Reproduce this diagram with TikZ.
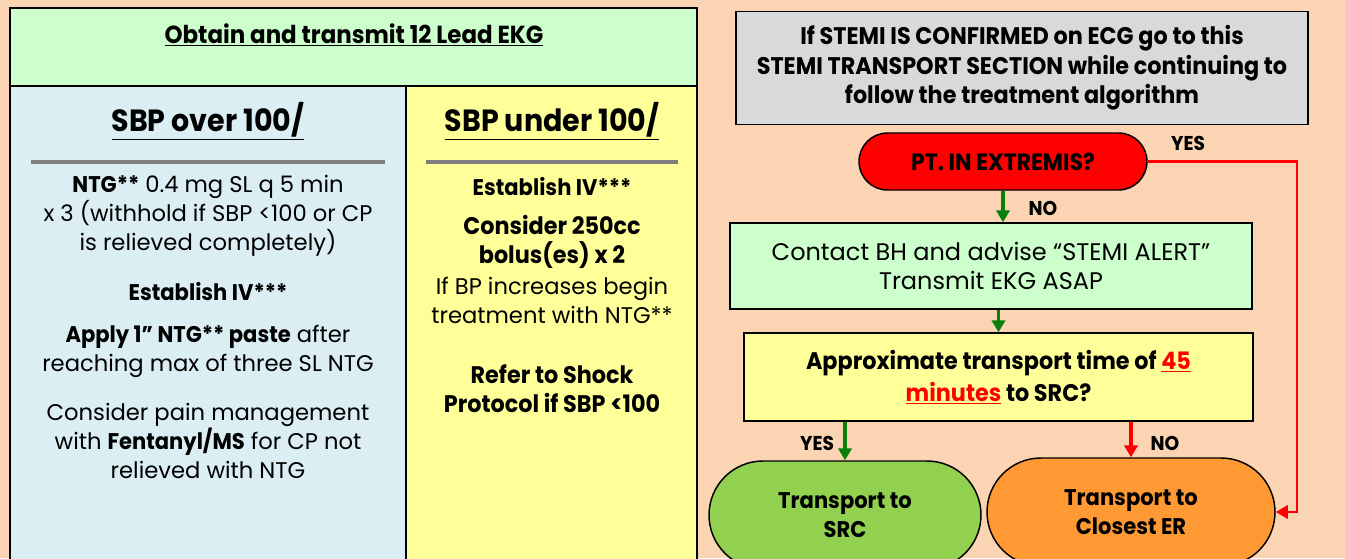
\documentclass[tikz,border=0pt]{standalone}
\usepackage{fontspec}
\setmainfont{Poppins}[BoldFeatures={FakeStretch=0.93}]
\usetikzlibrary{shapes.misc,arrows.meta}
\definecolor{peach}{HTML}{FBD4B4}
\definecolor{mint}{HTML}{CCFFCC}
\definecolor{paleblue}{HTML}{DAEEF3}
\definecolor{paleyellow}{HTML}{FFFF99}
\definecolor{boxgray}{HTML}{D9D9D9}
\definecolor{rulegray}{HTML}{7F7F7F}
\definecolor{leafgreen}{HTML}{92D050}
\definecolor{tangerine}{HTML}{FF9933}
\definecolor{arrowgreen}{HTML}{0A800A}
\begin{document}
\begin{tikzpicture}[x=0.75pt,y=-0.75pt,
    body/.style={align=center,font=\fontsize{17}{21.75}\selectfont},
    big/.style={align=center,font=\bfseries\fontsize{18}{21.75}\selectfont},
    bx/.style={draw,line width=1.1pt,align=center,inner sep=0pt},
    term/.style={rounded rectangle,draw,line width=1.1pt,align=center,inner sep=0pt,
      font=\bfseries\fontsize{17}{22}\selectfont},
    garr/.style={draw=arrowgreen,line width=2.4pt,-{Triangle[length=9pt,width=10pt]}},
    rarr/.style={draw=red,line width=2.4pt,-{Triangle[length=9pt,width=10pt]}},
    lbl/.style={font=\bfseries\fontsize{15}{17}\selectfont}]
  \useasboundingbox (0,0) rectangle (1345,558);
  \clip (0,0) rectangle (1345,558);
  \fill[peach] (0,0) rectangle (1345,558);
  % left half
  \draw[line width=1.4pt,fill=mint] (10,8) rectangle (697,86);
  \draw[line width=1.4pt,fill=paleblue] (10,86) rectangle (406,600);
  \draw[line width=1.4pt,fill=paleyellow] (406,86) rectangle (697,600);
  \node (hdr) at (354,35) {\fontsize{18.5}{22}\selectfont\bfseries\underline{Obtain and transmit 12 Lead EKG}};
  \node (over) at (208,121) {\fontsize{23}{26}\selectfont\bfseries\underline{SBP over 100/}};
  \node (under) at (552,121) {\fontsize{23}{26}\selectfont\bfseries\underline{SBP under 100/}};
  \draw[rulegray,line width=2.6pt] (31,162) -- (385,162);
  \draw[rulegray,line width=2.6pt] (426,162) -- (678,162);
  \node[body] (ntg) at (208,216) {\textbf{NTG**} 0.4 mg SL q 5 min\\x 3 (withhold if SBP <100 or CP\\is relieved completely)};
  \node[body] (iv) at (208,292) {\textbf{Establish IV***}};
  \node[body] (paste) at (208,351) {\textbf{Apply 1'' NTG** paste} after\\reaching max of three SL NTG};
  \node[body] (pain) at (208,441) {Consider pain management\\with \textbf{Fentanyl/MS} for CP not\\relieved with NTG};
  \node[body] (ivb) at (552,187) {\textbf{Establish IV***}};
  \node[big] (bolus) at (552,242) {Consider 250cc\\bolus(es) x 2};
  \node[body] (rise) at (552,300) {If BP increases begin\\treatment with NTG**};
  \node[big] (shock) at (552,389) {Refer to Shock\\Protocol if SBP <100};
  % STEMI transport section
  \node[bx,fill=boxgray,minimum width=429pt,minimum height=84.75pt,
    font=\bfseries\fontsize{18}{22}\selectfont] (stemi) at (1022,68)
    {If STEMI IS CONFIRMED on ECG go to this\\STEMI TRANSPORT SECTION while continuing to\\follow the treatment algorithm};
  \node[term,fill=red,minimum width=216pt,minimum height=42.75pt,font=\bfseries\fontsize{17.7}{22}\selectfont] (ext) at (1003,161.5) {PT. IN EXTREMIS?};
  \node[bx,fill=mint,minimum width=391.5pt,minimum height=64.5pt,
    font=\fontsize{18}{22}\selectfont] (bh) at (991,266)
    {Contact BH and advise ``STEMI ALERT''\\Transmit EKG ASAP};
  \node[bx,fill=paleyellow,minimum width=381.75pt,minimum height=66pt,
    font=\bfseries\fontsize{18}{24}\selectfont] (time) at (998.5,377)
    {Approximate transport time of {\color{red}\underline{45}}\\{\color{red}\underline{minutes}} to SRC?};
  \node[term,fill=leafgreen,minimum width=204pt,minimum height=81pt] (src) at (845,515) {Transport to\\SRC};
  \node[term,fill=tangerine,minimum width=216pt,minimum height=81pt] (cer) at (1131,512) {Transport to\\Closest ER};
  \coordinate (rt) at (1297,163);
  \draw[garr] (bh.north -| ext.south) ++(0,-31) coordinate (n1) -- (n1 |- bh.north);
  \draw[garr] (bh.south -| time.north) -- (time.north);
  \draw[garr] (src.north |- time.south) -- (src.north);
  \draw[rarr] (cer.north |- time.south) -- (cer.north);
  \draw[draw=red,line width=1.8pt,-{Triangle[length=9pt,width=10pt]}] (ext.east) -- (ext.east -| rt) |- (cer.east);
  \node[lbl] (yes1) at (1188,143) {YES};
  \node[lbl] (no1) at (1043,208) {NO};
  \node[lbl] (yes2) at (817,443) {YES};
  \node[lbl] (no2) at (1165,443) {NO};
\end{tikzpicture}
\end{document}
